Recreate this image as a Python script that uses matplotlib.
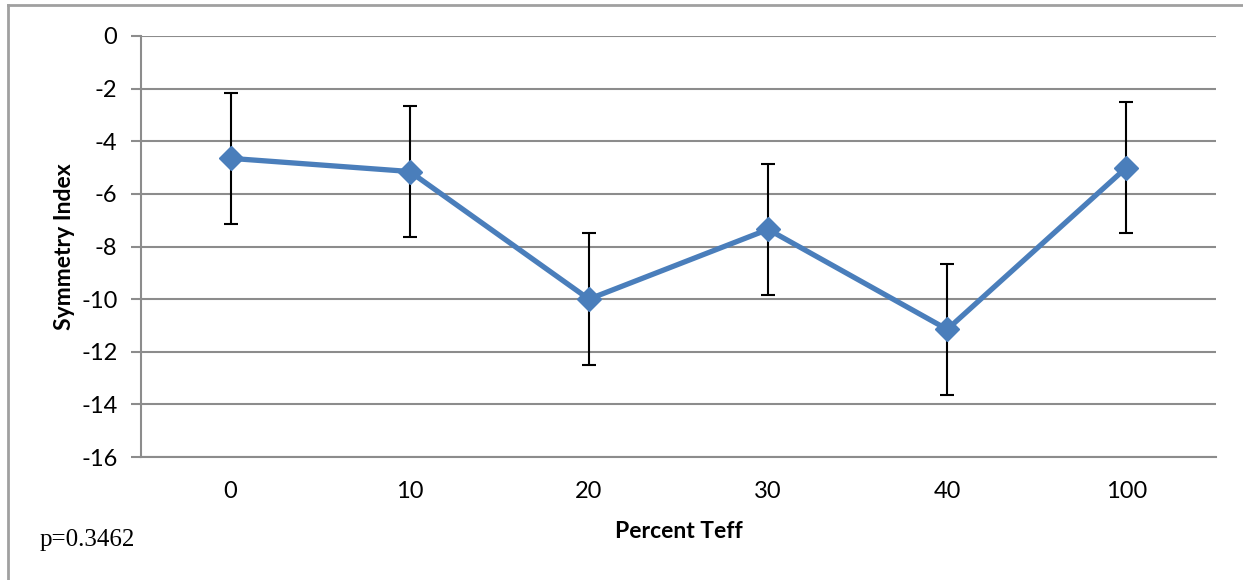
import matplotlib
matplotlib.use("Agg")
import matplotlib.pyplot as plt
from matplotlib.lines import Line2D

categories = ["0", "10", "20", "30", "40", "100"]
values = [-4.65, -5.15, -10.0, -7.35, -11.15, -5.0]
errors = [2.5, 2.5, 2.5, 2.5, 2.5, 2.5]
yticks = [0, -2, -4, -6, -8, -10, -12, -14, -16]

W, H = 1243, 580
fig = plt.figure(figsize=(W / 100, H / 100), dpi=100)
ax = fig.add_axes([141 / W, 1 - 457 / H, (1216 - 141) / W, (457 - 36) / H])

x = list(range(len(categories)))
ax.errorbar(x, values, yerr=errors, fmt="none", ecolor="black", elinewidth=1.5,
            capsize=5, capthick=1.5, zorder=3)
ax.plot(x, values, color="#4A7EBB", lw=3.8, marker="D", markersize=12,
        markeredgecolor="#4A7EBB", zorder=4)

ax.set_xlim(-0.5, len(categories) - 0.5)
ax.set_ylim(-16, 0)
ax.set_yticks(yticks)
ax.set_yticklabels([str(v) for v in yticks])
ax.set_xticks(x)
ax.set_xticklabels(categories)
ax.grid(axis="y", color="#8c8c8c", lw=1.5)
ax.set_axisbelow(True)
for s in ["top", "right"]:
    ax.spines[s].set_visible(False)
for s in ["left", "bottom"]:
    ax.spines[s].set_color("#8c8c8c")
    ax.spines[s].set_linewidth(1.5)
ax.tick_params(axis="y", length=7, width=1.5, color="#8c8c8c", labelsize=17, pad=10)
ax.tick_params(axis="x", length=0, labelsize=17, pad=17)
for lab in ax.get_xticklabels() + ax.get_yticklabels():
    lab.set_family("Lato")

ax.set_xlabel("Percent Teff", fontsize=16.5, fontweight="bold", family="Lato", labelpad=14)
ax.set_ylabel("Symmetry Index", fontsize=16.5, fontweight="bold", family="Lato", labelpad=4)

fig.text(40 / W, 1 - 540 / H, "p=0.3462", fontsize=18, family="Liberation Serif",
         va="center", ha="left")

fig.add_artist(Line2D([8 / W, 8 / W], [0, 1 - 5 / H], transform=fig.transFigure,
                      color="#a0a0a0", lw=2))
fig.add_artist(Line2D([8 / W, 1], [1 - 5 / H, 1 - 5 / H], transform=fig.transFigure,
                      color="#a0a0a0", lw=2))

fig.savefig("out.png", dpi=100)
